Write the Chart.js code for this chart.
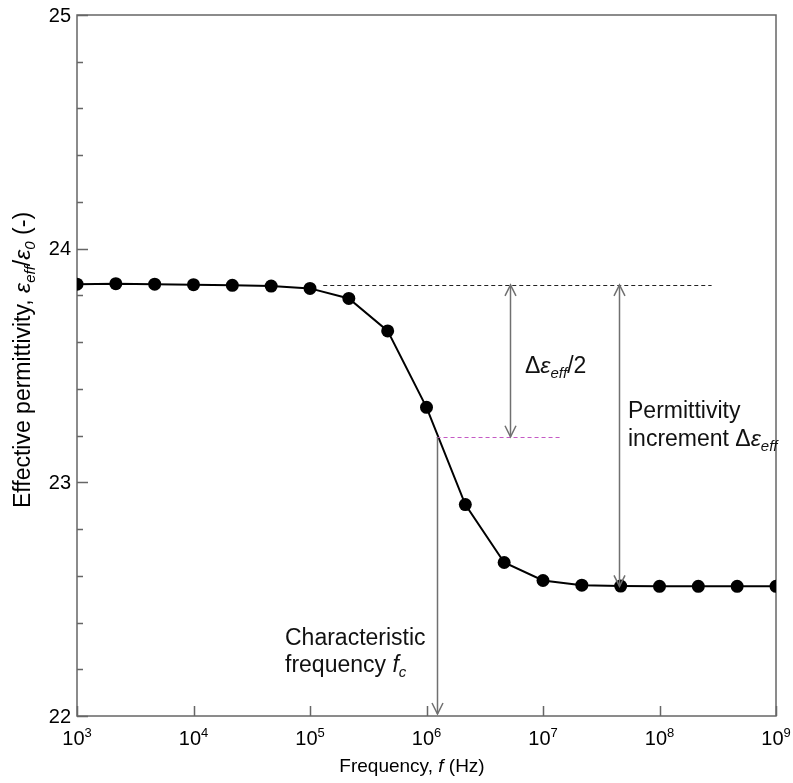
<!DOCTYPE html>
<html>
<head>
<meta charset="utf-8">
<script src="https://cdn.jsdelivr.net/npm/chart.js@4/dist/chart.umd.min.js"></script>
<style>
  html, body { margin: 0; padding: 0; background: #fff; }
  #grafico { display: block; }
</style>
</head>
<body>
<canvas id="grafico" width="793" height="783"></canvas>
<script>
// ---- datos ----
const frecuencias = [1e3, 2.154e3, 4.642e3, 1e4, 2.154e4, 4.642e4, 1e5, 2.154e5, 4.642e5,
                     1e6, 2.154e6, 4.642e6, 1e7, 2.154e7, 4.642e7, 1e8, 2.154e8, 4.642e8, 1e9];
const permitividad = [23.848, 23.850, 23.848, 23.846, 23.843, 23.840, 23.830, 23.787, 23.648,
                      23.321, 22.905, 22.657, 22.580, 22.560, 22.556, 22.555, 22.555, 22.555, 22.555];

// ejes
const expX = [3, 4, 5, 6, 7, 8, 9];
const ticksY = [22, 23, 24, 25];
const ticksYMenores = [22.2, 22.4, 22.6, 22.8, 23.2, 23.4, 23.6, 23.8, 24.2, 24.4, 24.6, 24.8];

// anotaciones (en unidades de los datos)
const epsAlto = 23.845;
const epsMedio = 23.195;
const epsBajo = 22.555;
const fCaracteristica = 1.22e6;
const fLineaAltaDesde = 1.3e5;
const fLineaAltaHasta = 2.8e8;
const fLineaMediaHasta = 1.4e7;
const fFlechaMitad = 5.2e6;
const fFlechaTotal = 4.5e7;

const FUENTE = '"Liberation Sans", Arial, sans-serif';
const GRIS = '#666';

function fuente(size, italica) {
    return (italica ? 'italic ' : '') + size + 'px ' + FUENTE;
}

// dibuja texto con partes en cursiva / subíndice / superíndice
function textoMixto(ctx, partes, x, y, size, align) {
    let ancho = 0;
    partes.forEach(p => {
        const s = (p.sub || p.sup) ? Math.round(size * 0.65) : size;
        ctx.font = fuente(s, p.it);
        p._w = ctx.measureText(p.t).width;
        p._s = s;
        ancho += p._w;
    });
    let cx = x;
    if (align === 'center') cx = x - ancho / 2;
    if (align === 'right') cx = x - ancho;
    ctx.textAlign = 'left';
    ctx.textBaseline = 'alphabetic';
    partes.forEach(p => {
        ctx.font = fuente(p._s, p.it);
        let dy = 0;
        if (p.sub) dy = size * 0.22;
        if (p.sup) dy = -size * 0.42;
        ctx.fillText(p.t, cx, y + dy);
        cx += p._w;
    });
    return ancho;
}

function flecha(ctx, x, y1, y2, puntaArriba, puntaAbajo) {
    ctx.beginPath();
    ctx.moveTo(x, y1);
    ctx.lineTo(x, y2);
    ctx.stroke();
    const L = 11, A = 5.5;
    if (puntaArriba) {
        ctx.beginPath();
        ctx.moveTo(x - A, y1 + L);
        ctx.lineTo(x, y1);
        ctx.lineTo(x + A, y1 + L);
        ctx.stroke();
    }
    if (puntaAbajo) {
        ctx.beginPath();
        ctx.moveTo(x - A, y2 - L);
        ctx.lineTo(x, y2);
        ctx.lineTo(x + A, y2 - L);
        ctx.stroke();
    }
}

const pluginEjes = {
    id: 'ejesFigura',
    beforeDatasetsDraw(chart) {
        const { ctx, chartArea: a, scales } = chart;
        const sx = scales.x, sy = scales.y;
        ctx.save();
        ctx.strokeStyle = GRIS;
        ctx.lineWidth = 1.5;
        ctx.strokeRect(a.left, a.top, a.right - a.left, a.bottom - a.top);

        // marcas hacia dentro
        ctx.beginPath();
        ticksY.forEach(v => {
            const y = Math.round(sy.getPixelForValue(v)) + 0.5;
            ctx.moveTo(a.left, y); ctx.lineTo(a.left + 11, y);
        });
        ticksYMenores.forEach(v => {
            const y = Math.round(sy.getPixelForValue(v)) + 0.5;
            ctx.moveTo(a.left, y); ctx.lineTo(a.left + 6, y);
        });
        expX.forEach(e => {
            const x = Math.round(sx.getPixelForValue(Math.pow(10, e))) + 0.5;
            ctx.moveTo(x, a.bottom); ctx.lineTo(x, a.bottom - 10);
        });
        ctx.stroke();
        ctx.restore();
    },
    afterDatasetsDraw(chart) {
        const { ctx, chartArea: a, scales } = chart;
        const sx = scales.x, sy = scales.y;
        ctx.save();
        ctx.fillStyle = '#000';

        // etiquetas eje y
        ctx.font = fuente(20);
        ctx.textAlign = 'right';
        ctx.textBaseline = 'middle';
        ticksY.forEach(v => {
            ctx.fillText(String(v), a.left - 6, sy.getPixelForValue(v) + 1);
        });

        // etiquetas eje x (10^n)
        expX.forEach(e => {
            const x = sx.getPixelForValue(Math.pow(10, e));
            textoMixto(ctx, [{ t: '10' }, { t: String(e), sup: true }], x, a.bottom + 29, 20, 'center');
        });

        // títulos de ejes
        textoMixto(ctx, [{ t: 'Frequency, ' }, { t: 'f', it: true }, { t: ' (Hz)' }],
            412, 772, 19, 'center');

        ctx.save();
        ctx.translate(30, 360);
        ctx.rotate(-Math.PI / 2);
        textoMixto(ctx, [
            { t: 'Effective permittivity, ' },
            { t: 'ε', it: true }, { t: 'eff', it: true, sub: true },
            { t: '/' },
            { t: 'ε', it: true }, { t: '0', it: true, sub: true },
            { t: ' (-)' }
        ], 0, 0, 23, 'center');
        ctx.restore();

        // líneas de referencia discontinuas
        const yAlto = sy.getPixelForValue(epsAlto);
        const yMedio = sy.getPixelForValue(epsMedio);
        const yBajo = sy.getPixelForValue(epsBajo);
        const xFc = sx.getPixelForValue(fCaracteristica);

        ctx.lineWidth = 1;
        ctx.setLineDash([4, 3]);
        ctx.strokeStyle = '#222';
        ctx.beginPath();
        ctx.moveTo(sx.getPixelForValue(fLineaAltaDesde), Math.round(yAlto) + 0.5);
        ctx.lineTo(sx.getPixelForValue(fLineaAltaHasta), Math.round(yAlto) + 0.5);
        ctx.stroke();
        ctx.strokeStyle = '#c55ac5';
        ctx.beginPath();
        ctx.moveTo(xFc, Math.round(yMedio) + 0.5);
        ctx.lineTo(sx.getPixelForValue(fLineaMediaHasta), Math.round(yMedio) + 0.5);
        ctx.stroke();
        ctx.setLineDash([]);

        // flechas
        ctx.strokeStyle = '#707070';
        ctx.lineWidth = 1.5;
        flecha(ctx, Math.round(sx.getPixelForValue(fFlechaMitad)) + 0.5, yAlto, yMedio, true, true);
        flecha(ctx, Math.round(sx.getPixelForValue(fFlechaTotal)) + 0.5, yAlto, yBajo, true, true);
        flecha(ctx, Math.round(xFc) + 0.5, yMedio, a.bottom - 2, false, true);

        // textos de anotación
        ctx.fillStyle = '#111';
        textoMixto(ctx, [{ t: 'Δ' }, { t: 'ε', it: true }, { t: 'eff', it: true, sub: true }, { t: '/2' }],
            525, 373, 23, 'left');
        textoMixto(ctx, [{ t: 'Permittivity' }], 628, 418, 23, 'left');
        textoMixto(ctx, [{ t: 'increment Δ' }, { t: 'ε', it: true }, { t: 'eff', it: true, sub: true }],
            628, 446, 23, 'left');
        textoMixto(ctx, [{ t: 'Characteristic' }], 285, 645, 23, 'left');
        textoMixto(ctx, [{ t: 'frequency ' }, { t: 'f', it: true }, { t: 'c', it: true, sub: true }],
            285, 672, 23, 'left');

        ctx.restore();
    }
};

const puntos = frecuencias.map((f, i) => ({ x: f, y: permitividad[i] }));

const ctxGrafico = document.getElementById('grafico').getContext('2d');
const chart = new Chart(ctxGrafico, {
    type: 'line',
    data: {
        datasets: [{
            data: puntos,
            borderColor: '#000',
            borderWidth: 2,
            backgroundColor: '#000',
            pointBackgroundColor: '#000',
            pointBorderWidth: 0,
            pointRadius: 6.5,
            tension: 0,
            clip: 0
        }]
    },
    options: {
        responsive: false,
        animation: false,
        layout: { padding: { top: 15, right: 17, left: 0, bottom: 0 } },
        plugins: {
            legend: { display: false },
            tooltip: { enabled: false }
        },
        scales: {
            x: {
                type: 'logarithmic',
                min: 1e3,
                max: 1e9,
                grid: { display: false },
                border: { display: false },
                ticks: { display: false },
                afterFit: s => { s.height = 67; }
            },
            y: {
                type: 'linear',
                min: 22,
                max: 25,
                grid: { display: false },
                border: { display: false },
                ticks: { display: false },
                afterFit: s => { s.width = 77; }
            }
        }
    },
    plugins: [pluginEjes]
});
</script>
</body>
</html>
